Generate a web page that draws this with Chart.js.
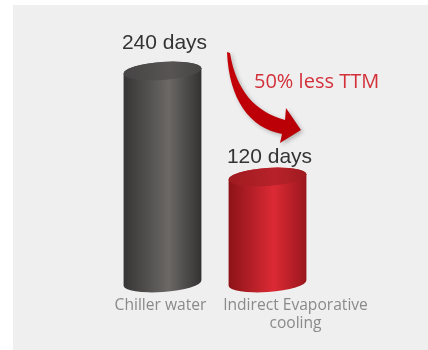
<!DOCTYPE html>
<html lang="en">
<head>
    <meta charset="UTF-8">
    <title>Time to market</title>
    <script src="https://cdn.jsdelivr.net/npm/chart.js"></script>
    <style>
        body {
            margin: 0;
            background: #fff;
        }
        canvas {
            display: block;
        }
    </style>
</head>
<body>
    <canvas id="ttmChart" width="428" height="350"></canvas>

    <script>
        // chart data
        const categories = [['Chiller water'], ['Indirect Evaporative', 'cooling']];
        const days = [240, 120];
        const valueLabels = ['240 days', '120 days'];
        const callout = '50% less TTM';

        // cylinder colours: [edge left, highlight, edge right, top]
        const palettes = [
            { left: '#363535', mid: '#6b6866', right: '#333232', top: '#464444', topLight: '#575453' },
            { left: '#8c1318', mid: '#dc2a35', right: '#9a161c', top: '#9f1a1f', topLight: '#b8222a' }
        ];

        const cylinderPlugin = {
            id: 'cylinders',
            beforeDraw(chart) {
                const ctx = chart.ctx;
                ctx.save();
                ctx.fillStyle = '#efefef';
                ctx.fillRect(13, 5, chart.width - 13, chart.height - 5);
                ctx.restore();
            },
            afterDatasetsDraw(chart) {
                const ctx = chart.ctx;
                const meta = chart.getDatasetMeta(0);
                const rot = -0.07;
                meta.data.forEach((bar, i) => {
                    const { x, y, base, width } = bar.getProps(['x', 'y', 'base', 'width'], true);
                    const rx = width / 2;
                    const ry = 9;
                    const p = palettes[i];

                    // body
                    const g = ctx.createLinearGradient(x - rx, 0, x + rx, 0);
                    g.addColorStop(0, p.left);
                    g.addColorStop(0.58, p.mid);
                    g.addColorStop(1, p.right);
                    ctx.save();
                    ctx.beginPath();
                    ctx.ellipse(x, base, rx, ry, rot, 0, Math.PI, false);
                    ctx.ellipse(x, y, rx, ry, rot, Math.PI, 2 * Math.PI, false);
                    ctx.closePath();
                    ctx.fillStyle = g;
                    ctx.fill();

                    // top face
                    const tg = ctx.createLinearGradient(x - rx, 0, x + rx, 0);
                    tg.addColorStop(0, p.top);
                    tg.addColorStop(0.6, p.topLight);
                    tg.addColorStop(1, p.top);
                    ctx.beginPath();
                    ctx.ellipse(x, y, rx, ry, rot, 0, 2 * Math.PI);
                    ctx.fillStyle = tg;
                    ctx.fill();
                    ctx.restore();

                    // value label
                    const gaps = [22, 14];
                    ctx.save();
                    ctx.font = '21px "Liberation Sans", Arial, sans-serif';
                    ctx.fillStyle = '#333333';
                    ctx.textAlign = 'center';
                    ctx.textBaseline = 'alphabetic';
                    ctx.fillText(valueLabels[i], x + 2, y - gaps[i]);
                    ctx.restore();

                    // category label
                    const shifts = [-2, 28];
                    ctx.save();
                    ctx.font = '15.6px "Open Sans", sans-serif';
                    ctx.fillStyle = '#8a8a8a';
                    ctx.textAlign = 'center';
                    categories[i].forEach((line, k) => {
                        ctx.fillText(line, x + shifts[i], base + 27 + k * 18);
                    });
                    ctx.restore();
                });

                // curved arrow
                ctx.save();
                ctx.shadowColor = 'rgba(0,0,0,0.25)';
                ctx.shadowBlur = 4;
                ctx.shadowOffsetX = 2;
                ctx.shadowOffsetY = 2;
                const ag = ctx.createLinearGradient(227, 53, 300, 135);
                ag.addColorStop(0, '#c40008');
                ag.addColorStop(1, '#b80006');
                ctx.fillStyle = ag;
                ctx.beginPath();
                ctx.moveTo(227, 52);
                ctx.bezierCurveTo(229, 100, 250, 128, 282, 134);
                ctx.lineTo(280, 143);
                ctx.lineTo(301, 130);
                ctx.lineTo(286, 108);
                ctx.lineTo(285, 120);
                ctx.bezierCurveTo(255, 112, 236, 90, 230, 53);
                ctx.closePath();
                ctx.fill();
                ctx.restore();

                // callout text
                ctx.save();
                ctx.font = '20px "Open Sans", sans-serif';
                ctx.fillStyle = '#d3303a';
                ctx.textAlign = 'left';
                ctx.fillText(callout, 254, 88);
                ctx.restore();
            }
        };

        new Chart(document.getElementById('ttmChart'), {
            type: 'bar',
            data: {
                labels: categories,
                datasets: [{
                    data: days,
                    backgroundColor: 'rgba(0,0,0,0)',
                    borderWidth: 0,
                    barPercentage: 0.743,
                    categoryPercentage: 1
                }]
            },
            options: {
                responsive: false,
                devicePixelRatio: 1,
                animation: false,
                layout: {
                    padding: { left: 110, right: 108, top: 71, bottom: 67 }
                },
                plugins: {
                    legend: { display: false },
                    tooltip: { enabled: false }
                },
                scales: {
                    x: { display: false },
                    y: { display: false, min: 0, max: 240 }
                }
            },
            plugins: [cylinderPlugin]
        });
    </script>
</body>
</html>
